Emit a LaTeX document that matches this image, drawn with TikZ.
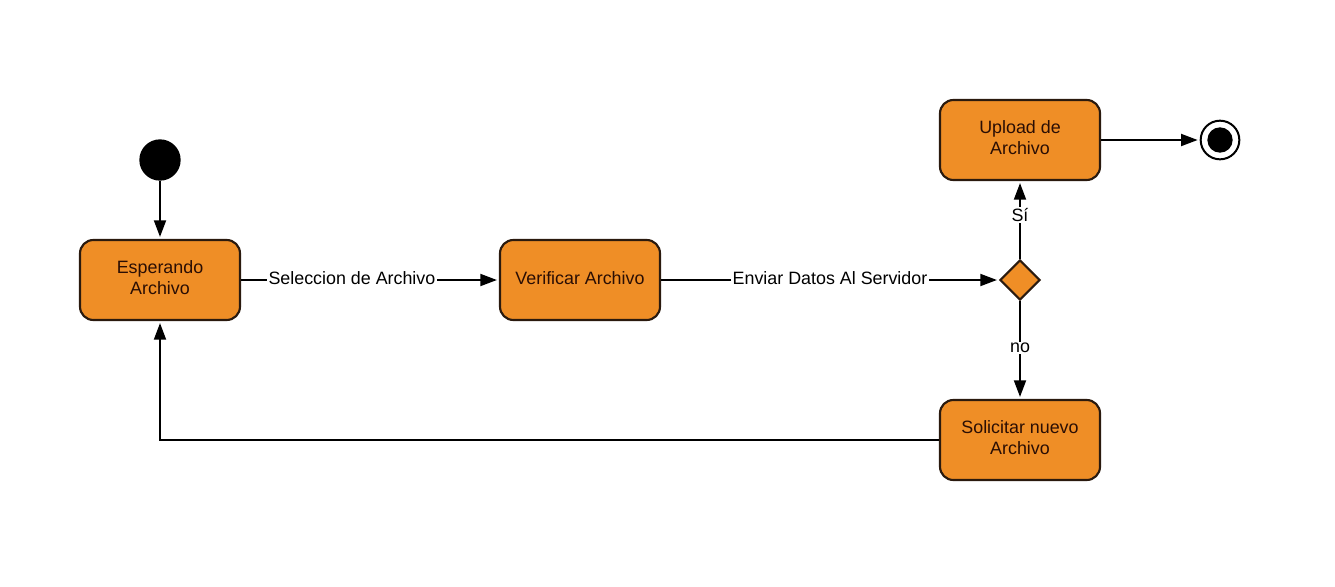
\documentclass[tikz,border=0pt]{standalone}
\usepackage{fontspec}
\setmainfont{Liberation Sans}
\usepackage{xcolor}
\usetikzlibrary{arrows.meta}
\usetikzlibrary{shapes.geometric}

\definecolor{boxorange}{HTML}{EF8E26}
\definecolor{boxline}{HTML}{2A1A0E}
\definecolor{boxtext}{HTML}{2A0E04}

\tikzset{
  state/.style={draw=boxline,line width=1.6pt,fill=boxorange,rounded corners=10pt,
    minimum width=120pt,minimum height=60pt,align=center,text=boxtext,text depth=3pt,
    font=\fontsize{13.4}{15.75}\selectfont},
  choice/.style={diamond,draw=boxline,line width=1.6pt,fill=boxorange,
    minimum width=30pt,minimum height=30pt,inner sep=0pt},
  flow/.style={line width=1.5pt,-{Triangle[length=12.5pt,width=9pt]},shorten >=1.5pt},
  lbl/.style={fill=white,inner sep=1pt,yshift=1.5pt,font=\fontsize{13.4}{15.75}\selectfont}
}

\begin{document}
\begin{tikzpicture}[x=0.75pt,y=-0.75pt]
  \useasboundingbox (0,0) rectangle (1335,586);

  \node (start) at (160,160) [circle,fill=black,minimum size=31pt,inner sep=0pt] {};
  \node (wait) at (160,280) [state] {Esperando\\Archivo};
  \node (check) at (580,280) [state] {Verificar Archivo};
  \node (ok) at (1020,280) [choice] {};
  \node (upload) at (1020,140) [state] {Upload de\\Archivo};
  \node (retry) at (1020,440) [state] {Solicitar nuevo\\Archivo};
  \node (stop) at (1220,140) [circle,draw=black,line width=1.5pt,fill=white,minimum size=29pt,inner sep=0pt] {};
  \node (stopdot) at (stop) [circle,fill=black,minimum size=19pt,inner sep=0pt] {};
  \coordinate (corner) at (160,440);

  \draw[flow] (start) -- (wait);
  \draw[flow] (wait) -- node[lbl,pos=0.43] {Seleccion de Archivo} (check);
  \draw[flow] (check) -- node[lbl,pos=0.5] {Enviar Datos Al Servidor} (ok);
  \draw[flow] (ok) -- node[lbl,pos=0.54] {Sí} (upload);
  \draw[flow] (ok) -- node[lbl,pos=0.5] {no} (retry);
  \draw[flow] (upload) -- (stop);
  \draw[flow] (retry) -- (corner) -- (wait);
\end{tikzpicture}
\end{document}
